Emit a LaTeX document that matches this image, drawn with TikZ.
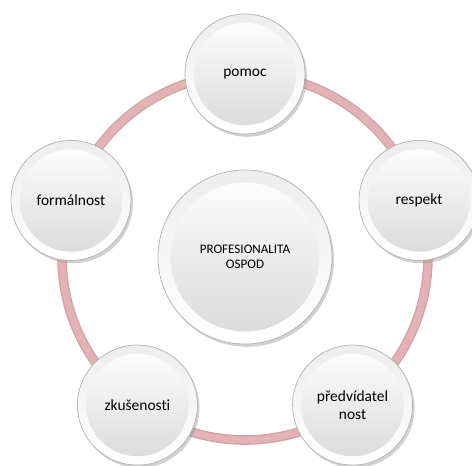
\documentclass[tikz,border=0pt]{standalone}
\usepackage{fontspec}
\setmainfont{Carlito}[Ligatures=NoCommon]
\usepackage{tkz-base}
\usepackage{tkz-euclide}
\usetikzlibrary{shadows}
\definecolor{ringrose}{HTML}{E2B2B4}
\definecolor{ringedge}{HTML}{D3A2A4}
\tikzset{
    glass/.style={
        circle, draw=gray!60, line width=.5pt, inner sep=0pt, align=center,
        top color=gray!14, bottom color=white,
        drop shadow={shadow xshift=.05cm, shadow yshift=-.07cm, fill=gray!80, opacity=.45}
    },
    bead/.style={
        glass, minimum size=3cm, font=\fontsize{11}{12.5}\selectfont,
        path picture={\shade[top color=white, bottom color=gray!30]
            (path picture bounding box.center) circle (1.28cm);}
    },
    hub/.style={
        glass, minimum size=4.35cm, font=\fontsize{9.3}{11}\selectfont,
        path picture={\shade[top color=white, bottom color=gray!30]
            (path picture bounding box.center) circle (1.86cm);}
    }
}

\begin{document}
\begin{tikzpicture}
    \useasboundingbox (-6.125,-5.2) rectangle (5.675,6.425);
    \tkzDefPoint(0,0){O}
    \tkzDefPoint(90:4.575){A}
    \tkzDefPoint(18:4.575){B}
    \tkzDefPoint(-54:4.575){C}
    \tkzDefPoint(-126:4.575){D}
    \tkzDefPoint(162:4.575){E}
    % ring
    \tkzDrawCircle[draw=ringedge, line width=.24cm](O,A)
    \tkzDrawCircle[draw=ringrose, line width=.17cm](O,A)
    % beads
    \node[hub] (profesionalita) at (O) {PROFESIONALITA\\OSPOD};
    \node[bead] (pomoc) at (A) {pomoc};
    \node[bead] (respekt) at (B) {respekt};
    \node[bead] (predvidatelnost) at (C) {předvídatel\\nost};
    \node[bead] (zkusenosti) at (D) {zkušenosti};
    \node[bead] (formalnost) at (E) {formálnost};
\end{tikzpicture}
\end{document}
